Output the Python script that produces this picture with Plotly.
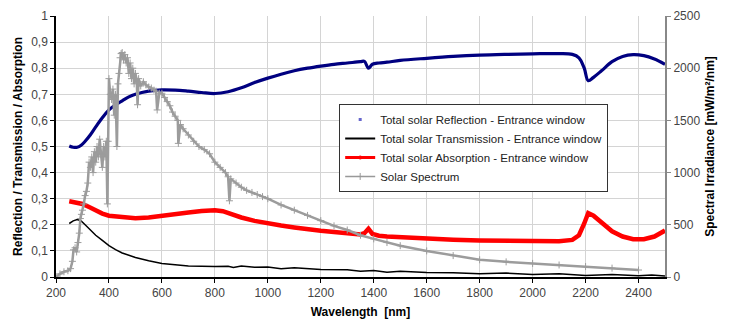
import plotly.graph_objects as go

# --- data ---
refl_nm = [250, 265, 280, 295, 310, 330, 350, 375, 400, 425, 450, 475, 500, 550, 600, 650, 700, 750, 800,
           850, 900, 950, 1000, 1050, 1100, 1150, 1200, 1250, 1300, 1350, 1365, 1380, 1395, 1420, 1450,
           1500, 1600, 1700, 1800, 1900, 2000, 2100, 2150, 2175, 2195, 2210, 2230, 2260, 2300, 2340,
           2380, 2420, 2460, 2500]
refl_val = [0.502, 0.497, 0.497, 0.505, 0.52, 0.545, 0.575, 0.61, 0.64, 0.66, 0.675, 0.69, 0.70, 0.712, 0.717,
            0.716, 0.712, 0.707, 0.703, 0.71, 0.725, 0.745, 0.762, 0.777, 0.79, 0.80, 0.808, 0.815, 0.82, 0.825,
            0.826, 0.80, 0.815, 0.82, 0.823, 0.83, 0.838, 0.845, 0.85, 0.853, 0.855, 0.856, 0.853, 0.84,
            0.80, 0.752, 0.765, 0.79, 0.825, 0.845, 0.852, 0.848, 0.835, 0.815]

trans_nm = [250, 265, 280, 295, 310, 330, 350, 375, 400, 425, 450, 500, 550, 600, 650, 700, 800, 850, 870,
            900, 950, 1000, 1050, 1100, 1200, 1300, 1350, 1400, 1450, 1500, 1600, 1700, 1800, 1900,
            2000, 2100, 2200, 2300, 2400, 2450, 2500]
trans_val = [0.205, 0.215, 0.22, 0.215, 0.20, 0.18, 0.16, 0.14, 0.12, 0.105, 0.092, 0.075, 0.062, 0.052, 0.046,
             0.042, 0.04, 0.041, 0.036, 0.042, 0.037, 0.038, 0.032, 0.035, 0.029, 0.028, 0.022, 0.025, 0.018,
             0.022, 0.017, 0.016, 0.012, 0.015, 0.01, 0.012, 0.006, 0.01, 0.005, 0.008, 0.004]

abs_nm = [250, 275, 300, 325, 350, 375, 400, 450, 500, 550, 600, 650, 700, 750, 800, 830, 860, 900, 950,
          1000, 1050, 1100, 1150, 1200, 1250, 1300, 1350, 1365, 1380, 1395, 1420, 1450, 1500, 1600, 1700,
          1800, 1900, 2000, 2100, 2150, 2175, 2195, 2210, 2230, 2260, 2300, 2340, 2380, 2420, 2460, 2500]
abs_val = [0.29, 0.285, 0.28, 0.268, 0.255, 0.243, 0.235, 0.228, 0.225, 0.228, 0.233, 0.24, 0.247, 0.253, 0.256,
           0.252, 0.24, 0.228, 0.215, 0.205, 0.197, 0.19, 0.182, 0.177, 0.172, 0.168, 0.163, 0.168, 0.185,
           0.165, 0.158, 0.155, 0.152, 0.147, 0.143, 0.14, 0.138, 0.136, 0.137, 0.142, 0.16, 0.205, 0.245,
           0.235, 0.21, 0.175, 0.155, 0.145, 0.145, 0.155, 0.178]

solar_nm = [200, 215, 230, 245, 255, 262, 266, 272, 278, 283, 288, 292, 296, 300, 305, 310, 315, 320, 325,
            330, 335, 340, 345, 350, 355, 360, 365, 370, 375, 380, 385, 390, 394, 397, 400, 405, 410, 415,
            420, 425, 430, 434, 438, 442, 446, 450, 455, 460, 465, 470, 475, 480, 485, 490, 495, 500, 505,
            508, 512, 520, 530, 540, 550, 560, 570, 578, 582, 590, 600, 610, 620, 630, 640, 650, 660, 662,
            670, 680, 700, 720, 740, 760, 780, 800, 820, 840, 850, 855, 860, 880, 900, 920, 940, 960, 980,
            1000, 1050, 1100, 1150, 1200, 1250, 1300, 1350, 1400, 1450, 1500, 1600, 1700, 1800, 1900,
            2000, 2100, 2200, 2300, 2400]
solar_val = [0, 30, 50, 60, 80, 150, 260, 280, 240, 330, 420, 560, 600, 640, 700, 780, 820, 900, 1100,
             1050, 1150, 1000, 1200, 1100, 1250, 1150, 1320, 1180, 1050, 1250, 1150, 1300, 700, 1300, 1900,
             1750, 1700, 1800, 1550, 1750, 1250, 1850, 1950, 2100, 2140, 2150, 2080, 2130, 2050, 2100, 1950,
             2050, 1900, 2000, 1850, 1950, 1880, 1650, 1900, 1830, 1870, 1840, 1820, 1810, 1790, 1780, 1600,
             1760, 1760, 1720, 1680, 1640, 1580, 1540, 1500, 1280, 1460, 1420, 1360, 1300, 1250, 1220, 1180,
             1100, 1050, 1000, 960, 730, 940, 900, 860, 830, 810, 790, 770, 750, 690, 640, 590, 540, 490, 450,
             400, 365, 330, 300, 250, 205, 165, 145, 130, 115, 100, 85, 67]

x_ticks = list(range(200, 2600, 200))
y_ticks = [i / 10 for i in range(11)]
y_tick_text = ["0" if v == 0 else ("1" if v == 1 else f"{v:.1f}".replace(".", ",")) for v in y_ticks]

FONT = "Liberation Sans, Arial, sans-serif"

fig = go.Figure()

fig.add_trace(go.Scatter(x=refl_nm, y=refl_val, mode="lines", line=dict(color="#000080", width=3.2),
                         showlegend=False, line_shape="spline"))
fig.add_trace(go.Scatter(x=trans_nm, y=trans_val, mode="lines", line=dict(color="#000000", width=1.5),
                         showlegend=False))
fig.add_trace(go.Scatter(x=abs_nm, y=abs_val, mode="lines", line=dict(color="#ff0000", width=4.5),
                         showlegend=False))
fig.add_trace(go.Scatter(x=solar_nm, y=solar_val, yaxis="y2", mode="lines+markers",
                         line=dict(color="#9c9c9c", width=2.5),
                         marker=dict(symbol="cross-thin", size=5, line=dict(color="#9c9c9c", width=1)),
                         showlegend=False))

# legend entries
fig.add_trace(go.Scatter(x=[None], y=[None], mode="markers", name="Total solar Reflection - Entrance window",
                         marker=dict(color="#6666cc", size=3, symbol="square")))
fig.add_trace(go.Scatter(x=[None], y=[None], mode="lines", name="Total solar Transmission - Entrance window",
                         line=dict(color="#000000", width=2)))
fig.add_trace(go.Scatter(x=[None], y=[None], mode="lines+markers", name="Total solar Absorption - Entrance window",
                         line=dict(color="#ff0000", width=3), marker=dict(color="#ff0000", size=4)))
fig.add_trace(go.Scatter(x=[None], y=[None], mode="lines+markers", name="Solar Spectrum",
                         line=dict(color="#999999", width=1.5),
                         marker=dict(symbol="cross-thin", size=5, line=dict(color="#999999", width=1))))

fig.update_layout(
    width=731, height=329,
    margin=dict(l=48, r=74, t=8, b=60),
    paper_bgcolor="white", plot_bgcolor="white",
    font=dict(family=FONT, size=12, color="#444444"),
    xaxis=dict(range=[200, 2500], tickvals=x_ticks, showgrid=True, gridcolor="#d4d4d4", gridwidth=1,
               showline=True, linecolor="black", linewidth=1.5, ticks="outside", ticklen=4, tickcolor="black",
               zeroline=False, automargin=False,
               title=dict(text="<b>Wavelength  [nm]</b>", font=dict(size=12, color="black"), standoff=8)),
    yaxis=dict(range=[0, 1], tickvals=y_ticks, ticktext=y_tick_text, showgrid=True, gridcolor="#d4d4d4",
               gridwidth=1, showline=True, linecolor="black", linewidth=1.5, ticks="outside", ticklen=4,
               tickcolor="black", zeroline=False, automargin=False,
               title=dict(text="<b>Reflection / Transmission / Absorption</b>", font=dict(size=12, color="black"),
                          standoff=6)),
    yaxis2=dict(range=[0, 2500], tickvals=[0, 500, 1000, 1500, 2000, 2500], overlaying="y", side="right",
                showgrid=False, showline=True, linecolor="#888888", linewidth=2, ticks="outside", ticklen=4,
                tickcolor="#888888", zeroline=False, automargin=False,
                title=dict(text="<b>Spectral Irradiance [mW/m²/nm]</b>", font=dict(size=12, color="black"),
                           standoff=6)),
    legend=dict(x=0.465, y=0.663, xanchor="left", yanchor="top", bgcolor="white", bordercolor="#333333",
                borderwidth=1, font=dict(size=11.5, color="#222222"), itemwidth=30, tracegroupgap=0),
)

fig.write_html("out.html")
